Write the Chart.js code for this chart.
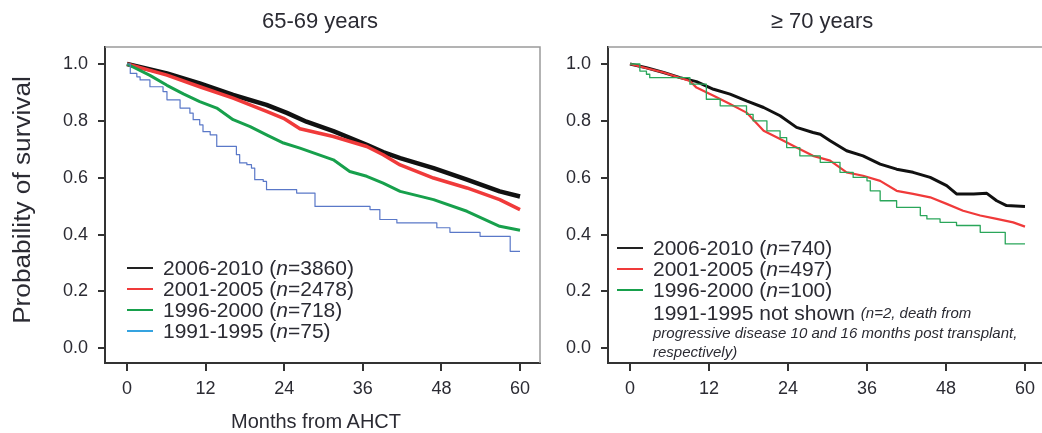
<!DOCTYPE html>
<html>
<head>
<meta charset="utf-8">
<script src="https://cdn.jsdelivr.net/npm/chart.js@4.4.1/dist/chart.umd.min.js"></script>
<style>
    body { margin: 0; background: #fff; width: 1042px; height: 433px; overflow: hidden; position: relative;
           font-family: "Liberation Sans", Arial, sans-serif; color: #2b2b33; }
    canvas { position: absolute; top: 0; }
    .title { position: absolute; top: 8px; font-size: 22px; white-space: nowrap; transform: translateX(-50%); }
    .ytitle { position: absolute; left: -128px; top: 186px; width: 300px; text-align: center; font-size: 23px;
              line-height: 28px; transform: rotate(-90deg) scaleX(1.14); white-space: nowrap; }
    .xtitle { position: absolute; left: 316px; top: 410px; font-size: 20px; transform: translateX(-50%); white-space: nowrap; }
    .legend { position: absolute; font-size: 21px; line-height: 21px; }
    .row { display: flex; align-items: center; height: 21px; white-space: nowrap; }
    .swatch { width: 26px; height: 2px; margin-right: 10px; }
    .note { font-size: 15px; font-style: italic; line-height: 19px; white-space: nowrap; }
</style>
</head>
<body>
<canvas id="left" width="548" height="433" style="left:0"></canvas>
<canvas id="right" width="494" height="433" style="left:548px"></canvas>

<div class="title" style="left:320px">65-69 years</div>
<div class="title" style="left:822px">&ge; 70 years</div>
<div class="ytitle">Probability of survival</div>
<div class="xtitle">Months from AHCT</div>

<div class="legend" style="left:127px; top:257px">
    <div class="row"><span class="swatch" style="background:#222"></span>2006-2010 (<i>n</i>=3860)</div>
    <div class="row"><span class="swatch" style="background:#f03a3a"></span>2001-2005 (<i>n</i>=2478)</div>
    <div class="row"><span class="swatch" style="background:#17a04c"></span>1996-2000 (<i>n</i>=718)</div>
    <div class="row"><span class="swatch" style="background:#35a3e0"></span>1991-1995 (<i>n</i>=75)</div>
</div>

<div class="legend" style="left:617px; top:237px">
    <div class="row"><span class="swatch" style="background:#222"></span>2006-2010 (<i>n</i>=740)</div>
    <div class="row"><span class="swatch" style="background:#f03a3a"></span>2001-2005 (<i>n</i>=497)</div>
    <div class="row"><span class="swatch" style="background:#17a04c"></span>1996-2000 (<i>n</i>=100)</div>
    <div class="row" style="margin-left:36px; margin-top:2px">1991-1995 not shown&nbsp;<span class="note">(n=2, death from</span></div>
    <div class="note" style="margin-left:36px">progressive disease 10 and 16 months post transplant,</div>
    <div class="note" style="margin-left:36px">respectively)</div>
</div>

<script>
// tick labels
const monthTicks = [0, 12, 24, 36, 48, 60];
const survTicks = [0, 0.2, 0.4, 0.6, 0.8, 1.0];

// 65-69 years
const monthsA2006 = [0, 6.1, 11.1, 16.2, 21.3, 24.4, 27.4, 31.5, 36.6, 39.1, 41.7, 46.8, 51.9, 56.9, 60];
const survA2006 = [1, 0.967, 0.932, 0.891, 0.856, 0.828, 0.797, 0.764, 0.716, 0.690, 0.669, 0.634, 0.593, 0.552, 0.534];
const monthsA2001 = [0, 6.1, 11.1, 16.2, 21.3, 23.9, 26.4, 31.5, 36.6, 39.1, 41.7, 46.8, 51.9, 56.9, 60];
const survA2001 = [1, 0.961, 0.920, 0.880, 0.833, 0.809, 0.772, 0.745, 0.710, 0.681, 0.645, 0.599, 0.564, 0.523, 0.488];
const monthsA1996 = [0, 3.5, 6.1, 8.6, 11.1, 13.7, 16.2, 18.8, 21.3, 23.9, 26.4, 31.5, 34.0, 36.6, 39.1, 41.7, 46.8, 51.9, 56.9, 60];
const survA1996 = [1, 0.960, 0.925, 0.895, 0.868, 0.845, 0.804, 0.780, 0.751, 0.722, 0.704, 0.663, 0.622, 0.605, 0.581, 0.552, 0.523, 0.482, 0.429, 0.415];
const monthsA1991 = [0, 0.5, 1.5, 2.0, 3.5, 5.5, 6.1, 8.1, 9.6, 10.1, 11.1, 11.6, 12.7, 13.7, 16.7, 17.2, 18.3, 19.0, 19.5, 20.8, 21.3, 25.9, 28.7, 37.1, 38.6, 41.2, 47.3, 49.3, 53.9, 58.5, 60];
const survA1991 = [1, 0.967, 0.955, 0.944, 0.920, 0.903, 0.874, 0.845, 0.827, 0.804, 0.786, 0.762, 0.751, 0.710, 0.681, 0.652, 0.646, 0.634, 0.593, 0.587, 0.558, 0.546, 0.499, 0.488, 0.453, 0.441, 0.424, 0.408, 0.394, 0.341, 0.341];

// >= 70 years
const monthsB2006 = [0, 2.5, 5.1, 7.6, 10.1, 12.7, 15.2, 17.7, 20.3, 22.8, 25.3, 27.8, 28.9, 30.4, 32.9, 35.4, 38.0, 40.5, 43.0, 45.6, 48.1, 49.6, 52.2, 54.2, 55.7, 57.2, 60];
const survB2006 = [1, 0.987, 0.970, 0.952, 0.938, 0.911, 0.894, 0.870, 0.847, 0.818, 0.777, 0.759, 0.753, 0.730, 0.695, 0.677, 0.648, 0.630, 0.619, 0.601, 0.572, 0.543, 0.543, 0.545, 0.519, 0.502, 0.499];
const monthsB2001 = [0, 5.1, 9.1, 10.1, 12.7, 15.2, 17.7, 20.3, 22.8, 25.3, 27.8, 30.4, 32.9, 35.4, 38.0, 40.5, 43.0, 45.6, 48.1, 50.6, 53.2, 55.7, 58.2, 60];
const survB2001 = [1, 0.970, 0.940, 0.917, 0.888, 0.859, 0.829, 0.765, 0.736, 0.706, 0.677, 0.660, 0.619, 0.607, 0.589, 0.554, 0.543, 0.531, 0.508, 0.484, 0.467, 0.455, 0.443, 0.428];
const monthsB1996 = [0, 1.5, 2.5, 3.0, 9.1, 11.6, 13.7, 17.7, 18.7, 20.8, 22.8, 23.8, 25.8, 28.9, 31.9, 33.9, 36.0, 36.5, 38.0, 40.5, 44.1, 45.1, 47.1, 49.6, 53.2, 57.0, 60];
const survB1996 = [1, 0.975, 0.964, 0.952, 0.929, 0.876, 0.853, 0.823, 0.800, 0.765, 0.741, 0.706, 0.677, 0.654, 0.619, 0.601, 0.589, 0.554, 0.519, 0.496, 0.467, 0.455, 0.443, 0.432, 0.408, 0.367, 0.367];

const tickColor = '#2b2b33';
const tickFont = { family: '"Liberation Sans", Arial, sans-serif', size: 18 };

function toPoints(months, surv) {
    return months.map((m, i) => ({ x: m, y: surv[i] }));
}

function curve(months, surv, color, width, stepped) {
    return {
        data: toPoints(months, surv),
        borderColor: color,
        borderWidth: width,
        pointRadius: 0,
        stepped: stepped ? 'before' : false,
        borderJoinStyle: 'round',
        tension: 0
    };
}

// thin grey frame on top (and right for the left panel)
function framePlugin(drawRight) {
    return {
        id: 'frame',
        afterDraw(chart) {
            const { ctx, chartArea: a } = chart;
            ctx.save();
            ctx.strokeStyle = '#9a9a9a';
            ctx.lineWidth = 1.5;
            ctx.beginPath();
            ctx.moveTo(a.left, a.top);
            ctx.lineTo(a.right, a.top);
            if (drawRight) ctx.lineTo(a.right, a.bottom);
            ctx.stroke();
            ctx.restore();
        }
    };
}

function makeChart(id, datasets, yWidth, xMin, xMax, padRight, drawRight) {
    return new Chart(document.getElementById(id), {
        type: 'line',
        data: { datasets: datasets },
        options: {
            responsive: false,
            animation: false,
            layout: { padding: { top: 47, right: padRight, left: 0, bottom: 0 } },
            plugins: { legend: { display: false }, tooltip: { enabled: false } },
            scales: {
                x: {
                    type: 'linear',
                    min: xMin,
                    max: xMax,
                    afterBuildTicks: s => { s.ticks = monthTicks.map(v => ({ value: v })); },
                    afterFit: s => { s.height = 70; },
                    grid: { drawOnChartArea: false, drawTicks: true, tickLength: 8, color: '#333', lineWidth: 2 },
                    border: { display: true, color: '#333', width: 2 },
                    ticks: { color: tickColor, font: tickFont, padding: 7, maxRotation: 0, callback: v => v }
                },
                y: {
                    type: 'linear',
                    min: -0.0517,
                    max: 1.0598,
                    afterBuildTicks: s => { s.ticks = survTicks.map(v => ({ value: v })); },
                    afterFit: s => { s.width = yWidth; },
                    grid: { drawOnChartArea: false, drawTicks: true, tickLength: 7, color: '#333', lineWidth: 2 },
                    border: { display: true, color: '#333', width: 2 },
                    ticks: { color: tickColor, font: tickFont, padding: 10, callback: v => v.toFixed(1) }
                }
            }
        },
        plugins: [framePlugin(drawRight)]
    });
}

makeChart('left', [
    curve(monthsA1991, survA1991, '#5a78c8', 1.2, true),
    curve(monthsA1996, survA1996, '#17a04c', 3, false),
    curve(monthsA2001, survA2001, '#f03a3a', 3.5, false),
    curve(monthsA2006, survA2006, '#111', 4.5, false)
], 105, -3.36, 63.05, 8, true);

makeChart('right', [
    curve(monthsB1996, survB1996, '#2aa65a', 1.3, true),
    curve(monthsB2001, survB2001, '#f03a3a', 2.2, false),
    curve(monthsB2006, survB2006, '#111', 3, false)
], 60, -3.34, 62.58, 0, false);
</script>
</body>
</html>
